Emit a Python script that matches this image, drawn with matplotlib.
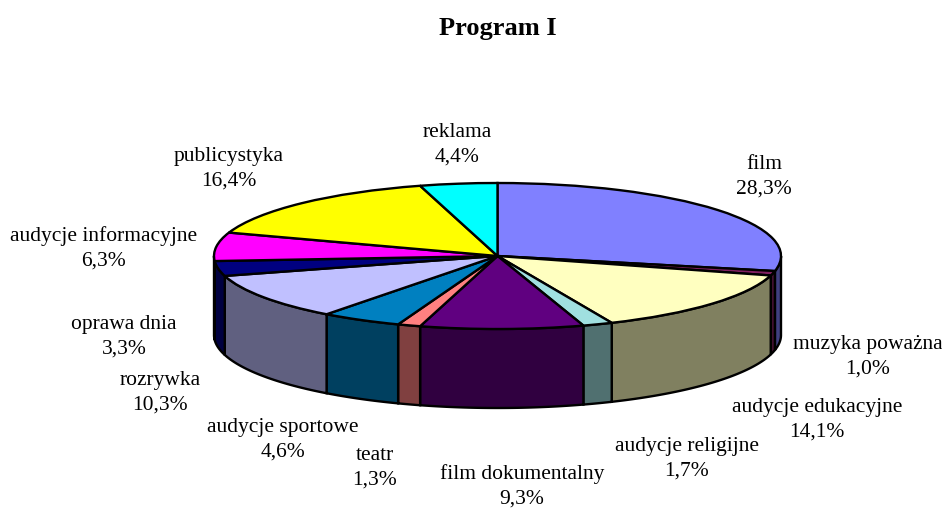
import numpy as np
import matplotlib
matplotlib.use('Agg')
import matplotlib.pyplot as plt
from matplotlib.patches import Polygon

plt.rcParams['font.family'] = ['Liberation Serif', 'DejaVu Serif']

names = ['film', 'muzyka poważna', 'audycje edukacyjne', 'audycje religijne',
         'film dokumentalny', 'teatr', 'audycje sportowe', 'rozrywka',
         'oprawa dnia', 'audycje informacyjne', 'publicystyka', 'reklama']
# udzialy (publicystyka jest narysowana mniejsza niz podpis 16,4%)
values = [28.3, 1.0, 14.1, 1.7, 9.3, 1.3, 4.6, 10.3, 3.3, 6.3, 15.4, 4.4]
value_labels = ['28,3%', '1,0%', '14,1%', '1,7%', '9,3%', '1,3%', '4,6%', '10,3%',
                '3,3%', '6,3%', '16,4%', '4,4%']
colors = ['#8080FF', '#802060', '#FFFFC0', '#A0E0E0', '#600080', '#FF8080',
          '#0080C0', '#C0C0FF', '#000080', '#FF00FF', '#FFFF00', '#00FFFF']
# srodki etykiet w pikselach obrazka
label_x = [764, 868, 817, 687, 522, 375, 283, 160, 124, 104, 229, 457]
label_y = [177, 357, 420, 459, 486, 468, 440, 393, 337, 248, 169, 145]

W, H = 942, 509
CX, CY = 497.5, 256
RX, RY = 283.5, 73
DEPTH = 79
LW = 1.7

fig = plt.figure(figsize=(W / 100, H / 100), dpi=100)
ax = fig.add_axes([0, 0, 1, 1])

# gorna powierzchnia kola
ax.pie(values, colors=colors, startangle=90, counterclock=False,
       wedgeprops={'edgecolor': 'black', 'linewidth': LW})
ax.set_aspect('auto')
ax.set_xlim(-CX / RX, (W - CX) / RX)
ax.set_ylim(-(H - CY) / RY, CY / RY)
ax.axis('off')

# boczne sciany (tylko przednia czesc obwodu)
d = DEPTH / RY
fr = np.array(values) / sum(values)
ends = np.pi / 2 - 2 * np.pi * np.cumsum(fr)
starts = ends + 2 * np.pi * fr
for a0, a1, col in zip(starts, ends, colors):
    t = np.linspace(a0, a1, 200)
    t = t[np.sin(t) <= 0]
    if len(t) < 2:
        continue
    top = np.column_stack([np.cos(t), np.sin(t)])
    bot = top[::-1] - [0, d]
    side = np.array(matplotlib.colors.to_rgb(col)) * 0.5
    ax.add_patch(Polygon(np.vstack([top, bot]), closed=True, facecolor=side,
                         edgecolor='black', linewidth=LW, zorder=0.5))

for x, y, n, v in zip(label_x, label_y, names, value_labels):
    ax.text((x - CX) / RX, (CY - y) / RY, n + '\n' + v, ha='center', va='center',
            fontsize=15.5, linespacing=1.4, color='black')

fig.text(497.5 / W, 1 - 28 / H, 'Program I', ha='center', va='center',
         fontsize=19, fontweight='bold')

fig.savefig('out.png', dpi=100)
